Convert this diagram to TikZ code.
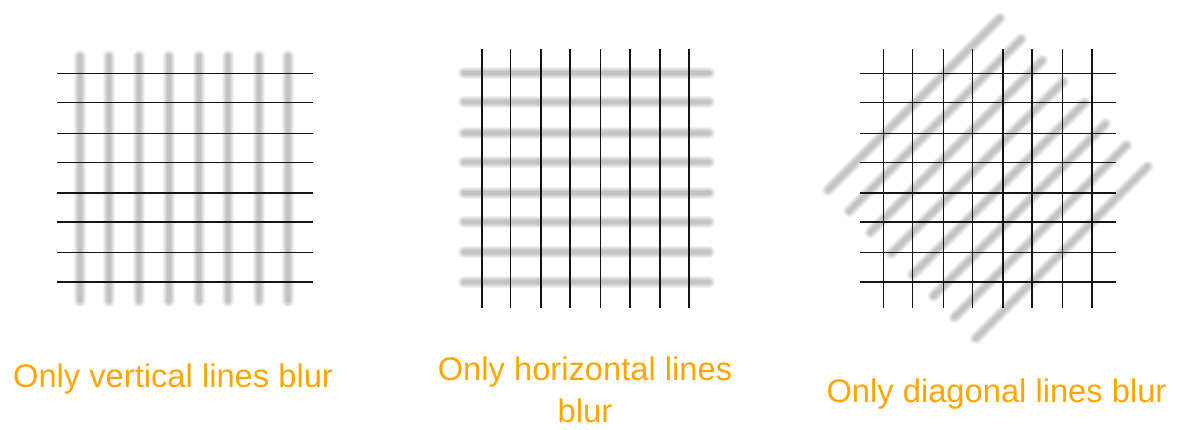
\documentclass[tikz,border=0pt]{standalone}
\usepackage{fontspec}
\setmainfont{Liberation Sans}
\definecolor{lbl}{RGB}{255,165,0}
\definecolor{ink}{RGB}{20,20,20}
\newcommand\myblur[2]{\foreach \w in {12,10,8,6,4}{\draw[blurstroke, line width=\w pt] #1 -- #2;}}
\begin{document}
\begin{tikzpicture}[x=1pt,y=-1pt,
  gridline/.style={line width=1.6pt, draw=ink},
  blurstroke/.style={line cap=round, draw=black, draw opacity=0.05},
  caption/.style={text=lbl, font=\fontsize{32.7}{42}\selectfont, align=center, inner sep=0pt, anchor=base}]
\useasboundingbox (0,0) rectangle (1179,429);
\def\ys{73.3,102.3,133.3,162.3,193,222,252.3,281.7}
% ---------- panel 1: vertical lines blurred ----------
\foreach \x in {80,109.3,139.3,169,199.3,228.3,259,288.3}{\myblur{(\x,56)}{(\x,301)}}
\foreach \y in \ys {\draw[gridline] (56.7,\y) -- (313,\y);}
% ---------- panel 2: horizontal lines blurred ----------
\foreach \y in \ys {\myblur{(464,\y)}{(709,\y)}}
\foreach \x in {481.7,510.3,540.7,570,600.3,630,660,689}{\draw[gridline] (\x,49.3) -- (\x,307.7);}
% ---------- panel 3: diagonal lines blurred ----------
\foreach \i in {0,...,7}{
  \pgfmathsetmacro\ax{828+21.1*\i}\pgfmathsetmacro\ay{190+21.2*\i}
  \pgfmathsetmacro\bx{1000+21.1*\i}\pgfmathsetmacro\by{18+21.2*\i}
  \myblur{(\ax,\ay)}{(\bx,\by)}}
\foreach \y in \ys {\draw[gridline] (860,\y) -- (1116,\y);}
\foreach \x in {883.3,912.3,943.3,972.3,1002.7,1031.7,1062.3,1091.7}{\draw[gridline] (\x,49.3) -- (\x,307.7);}
% ---------- captions ----------
\node[caption] (c1) at (173,387) {Only vertical lines blur};
\node[caption, text depth=0pt] (c2) at (585,422) {Only horizontal lines\\blur};
\node[caption] (c3) at (996.5,402.3) {Only diagonal lines blur};
\end{tikzpicture}
\end{document}
